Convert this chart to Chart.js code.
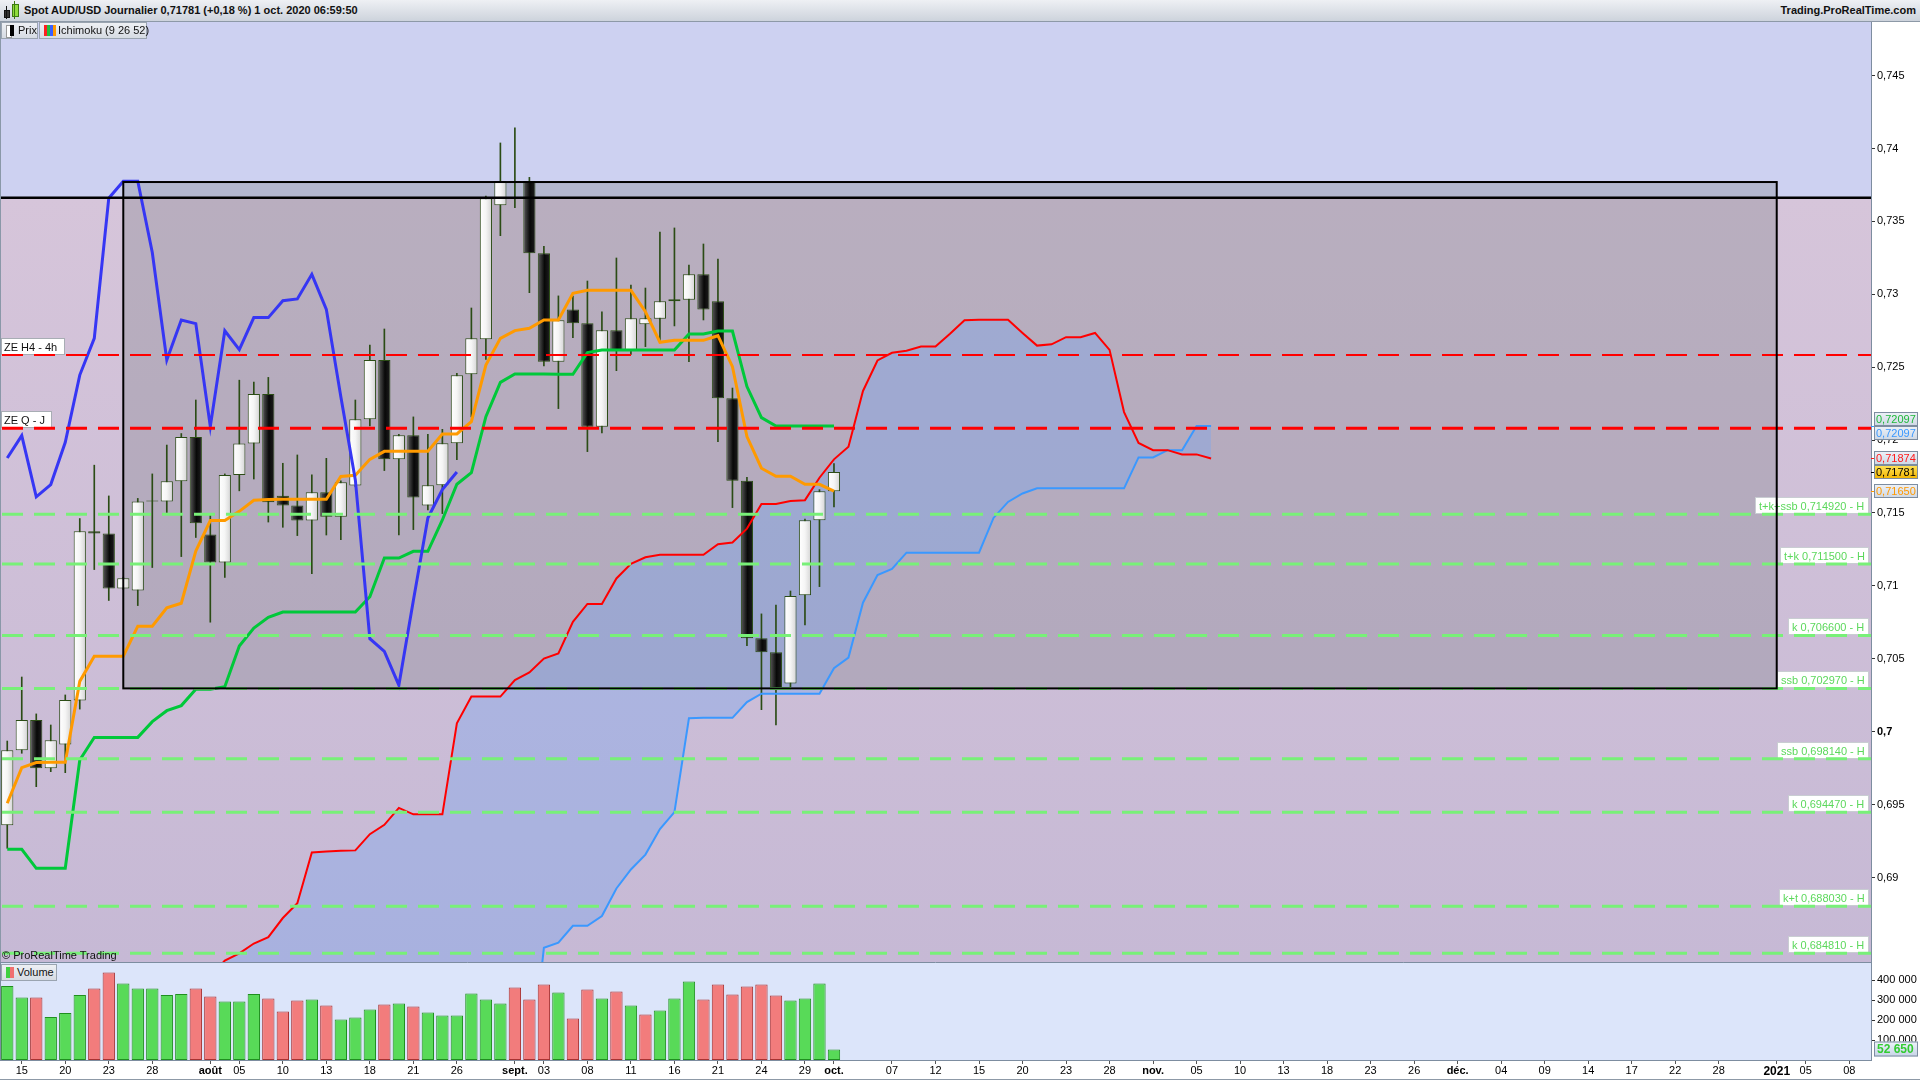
<!DOCTYPE html>
<html lang="fr">
<head>
<meta charset="utf-8">
<title>Spot AUD/USD Journalier</title>
<script src="https://cdn.jsdelivr.net/npm/chart.js@4.4.1/dist/chart.umd.min.js"></script>
<style>
  html, body { margin:0; padding:0; background:#fff; }
  body { width:1920px; height:1080px; position:relative; overflow:hidden; font-family:"Liberation Sans", Arial, sans-serif; }
  #head { position:absolute; left:0; top:0; width:1920px; height:22px; box-sizing:border-box; background:linear-gradient(#eef0f4,#cdd3dc); border-bottom:1px solid #8d99a7; font-size:11px; font-weight:bold; color:#111; z-index:2; }
  #head .title { position:absolute; left:24px; top:4px; }
  #head .site { position:absolute; right:4px; top:4px; }
  #head i { position:absolute; display:block; }
  #price { position:absolute; left:0; top:22px; }
  #vol { position:absolute; left:0; top:962px; }
  .btn { position:absolute; height:17px; box-sizing:border-box; border:1px solid #9aa4b0; background:linear-gradient(#eef0f4,#d6dbe3); font-size:11px; line-height:15px; color:#111; z-index:2; white-space:nowrap; }
  .btn i { position:absolute; top:2px; height:11px; display:block; }
  #copy { position:absolute; left:2px; top:949px; font-size:11px; color:#111; z-index:2; white-space:nowrap; }
  #bottomline { position:absolute; left:0; top:1079px; width:1920px; height:1px; background:#8d99a7; }
</style>
</head>
<body>
<div id="head">
  <i style="left:4px;top:10px;width:4px;height:6px;background:#333;border:1px solid #111"></i>
  <i style="left:6px;top:6px;width:1px;height:13px;background:#111"></i>
  <i style="left:12px;top:4px;width:5px;height:11px;background:#8fdc3c;border:1px solid #3c7a10"></i>
  <i style="left:14px;top:1px;width:1px;height:18px;background:#3c7a10"></i>
  <span class="title">Spot AUD/USD Journalier 0,71781 (+0,18 %) 1 oct. 2020 06:59:50</span>
  <span class="site">Trading.ProRealTime.com</span>
</div>
<canvas id="price" width="1920" height="940"></canvas>
<canvas id="vol" width="1920" height="118"></canvas>
<div class="btn" style="left:1px;top:22px;width:37px;">
  <i style="left:4px;width:4px;background:#fff;border:1px solid #999"></i><i style="left:8px;width:4px;background:#000"></i>
  <span style="position:absolute;left:16px">Prix</span>
</div>
<div class="btn" style="left:39px;top:22px;width:108px;">
  <i style="left:4px;width:3px;background:#ff2020"></i><i style="left:7px;width:3px;background:#20c040"></i><i style="left:10px;width:3px;background:#3a60ff"></i><i style="left:13px;width:3px;background:#ff9900"></i>
  <span style="position:absolute;left:18px">Ichimoku (9 26 52)</span>
</div>
<div id="copy">© ProRealTime Trading</div>
<div class="btn" style="left:1px;top:964px;width:56px;">
  <i style="left:4px;width:4px;background:#40d040"></i><i style="left:8px;width:4px;background:#f07070"></i>
  <span style="position:absolute;left:15px">Volume</span>
</div>
<div id="bottomline"></div>

<script>
const FONT = '"Liberation Sans", Arial, sans-serif'
Chart.defaults.font.family = FONT
Chart.defaults.font.size = 11
Chart.defaults.color = '#000'

// trading days shown on the x axis (history + 26 days of projected cloud)
const dates = [
  '2020-07-14','2020-07-15','2020-07-16','2020-07-17','2020-07-20','2020-07-21','2020-07-22','2020-07-23','2020-07-24','2020-07-27','2020-07-28','2020-07-29','2020-07-30','2020-07-31',
  '2020-08-03','2020-08-04','2020-08-05','2020-08-06','2020-08-07','2020-08-10','2020-08-11','2020-08-12','2020-08-13','2020-08-14','2020-08-17','2020-08-18','2020-08-19','2020-08-20','2020-08-21','2020-08-24','2020-08-25','2020-08-26','2020-08-27','2020-08-28','2020-08-31',
  '2020-09-01','2020-09-02','2020-09-03','2020-09-04','2020-09-07','2020-09-08','2020-09-09','2020-09-10','2020-09-11','2020-09-14','2020-09-15','2020-09-16','2020-09-17','2020-09-18','2020-09-21','2020-09-22','2020-09-23','2020-09-24','2020-09-25','2020-09-28','2020-09-29','2020-09-30',
  '2020-10-01','2020-10-02','2020-10-05','2020-10-06','2020-10-07','2020-10-08','2020-10-09','2020-10-12','2020-10-13','2020-10-14','2020-10-15','2020-10-16','2020-10-19','2020-10-20','2020-10-21','2020-10-22','2020-10-23','2020-10-26','2020-10-27','2020-10-28','2020-10-29','2020-10-30',
  '2020-11-02','2020-11-03','2020-11-04','2020-11-05','2020-11-06','2020-11-09','2020-11-10','2020-11-11','2020-11-12','2020-11-13','2020-11-16','2020-11-17','2020-11-18','2020-11-19','2020-11-20','2020-11-23','2020-11-24','2020-11-25','2020-11-26','2020-11-27','2020-11-30',
  '2020-12-01','2020-12-02','2020-12-03','2020-12-04','2020-12-07','2020-12-08','2020-12-09','2020-12-10','2020-12-11','2020-12-14','2020-12-15','2020-12-16','2020-12-17','2020-12-18','2020-12-21','2020-12-22','2020-12-23','2020-12-24','2020-12-28','2020-12-29','2020-12-30','2020-12-31',
  '2021-01-01','2021-01-04','2021-01-05','2021-01-06','2021-01-07','2021-01-08','2021-01-11'
]

const tickDates = ['2020-07-15','2020-07-20','2020-07-23','2020-07-28','2020-08-03','2020-08-05','2020-08-10','2020-08-13','2020-08-18','2020-08-21','2020-08-26','2020-09-01','2020-09-03','2020-09-08','2020-09-11','2020-09-16','2020-09-21','2020-09-24','2020-09-29','2020-10-01','2020-10-07','2020-10-12','2020-10-15','2020-10-20','2020-10-23','2020-10-28','2020-11-02','2020-11-05','2020-11-10','2020-11-13','2020-11-18','2020-11-23','2020-11-26','2020-12-01','2020-12-04','2020-12-09','2020-12-14','2020-12-17','2020-12-22','2020-12-28','2021-01-01','2021-01-05','2021-01-08']
const tickLabels = ['15','20','23','28','août','05','10','13','18','21','26','sept.','03','08','11','16','21','24','29','oct.','07','12','15','20','23','28','nov.','05','10','13','18','23','26','déc.','04','09','14','17','22','28','2021','05','08']
const boldLabels = ['août','sept.','oct.','nov.','déc.','2021']

// daily candles, 14 Jul -> 1 Oct 2020
const opens = [0.69358,0.69872,0.70080,0.69749,0.69913,0.70214,0.71375,0.71359,0.70982,0.70968,
  0.71579,0.71579,0.71717,0.72021,0.71353,0.71161,0.71760,0.71977,0.72316,0.71619,
  0.71551,0.71448,0.71642,0.71475,0.71688,0.72143,0.72550,0.71868,0.72033,0.71551,
  0.71690,0.71978,0.72451,0.72691,0.73610,0.73777,0.73777,0.73281,0.72538,0.72895,
  0.72801,0.72092,0.72753,0.72618,0.72794,0.72833,0.72952,0.72963,0.73137,0.72952,
  0.72287,0.71722,0.70641,0.70545,0.70330,0.70935,0.71450,0.71649]
const highs = [0.69936,0.70375,0.70122,0.70046,0.70252,0.71462,0.71828,0.71617,0.71060,0.71600,
  0.71768,0.71966,0.72045,0.72275,0.71484,0.71768,0.72411,0.72398,0.72430,0.71841,
  0.71898,0.71761,0.71875,0.71720,0.72275,0.72652,0.72762,0.72040,0.72159,0.72040,
  0.72074,0.72458,0.72906,0.73674,0.74038,0.74141,0.73802,0.73329,0.72989,0.72988,
  0.73091,0.72879,0.73249,0.73064,0.73043,0.73427,0.73455,0.73201,0.73345,0.73242,
  0.72357,0.71745,0.70808,0.70869,0.70965,0.71459,0.71660,0.71839]
const lows = [0.69200,0.69852,0.69623,0.69726,0.69719,0.70155,0.71112,0.70900,0.70975,0.70865,
  0.71126,0.71503,0.71201,0.71332,0.70751,0.71058,0.71652,0.71733,0.71438,0.71402,
  0.71345,0.71084,0.71349,0.71317,0.71680,0.72097,0.71791,0.71349,0.71386,0.71521,
  0.71496,0.71866,0.72159,0.72554,0.73402,0.73594,0.73011,0.72508,0.72216,0.72703,
  0.71921,0.72049,0.72476,0.72588,0.72641,0.72675,0.72783,0.72538,0.72824,0.71990,
  0.71537,0.70590,0.70151,0.70046,0.70309,0.70732,0.70995,0.71541]
const closes = [0.69872,0.70080,0.69749,0.69941,0.70217,0.71375,0.71359,0.70982,0.71052,0.71579,
  0.71582,0.71717,0.72021,0.71429,0.71161,0.71760,0.71977,0.72316,0.71573,0.71551,
  0.71448,0.71642,0.71475,0.71711,0.72143,0.72550,0.71868,0.72033,0.71606,0.71690,
  0.71978,0.72444,0.72698,0.73658,0.73777,0.73770,0.73281,0.72538,0.72822,0.72801,
  0.72092,0.72753,0.72618,0.72835,0.72835,0.72952,0.72966,0.73137,0.72895,0.72287,
  0.71722,0.70641,0.70545,0.70298,0.70931,0.71450,0.71649,0.71781]

const volumes = [370000,313000,313000,215000,235000,325000,358000,438000,383000,358000,
  358000,325000,330000,358000,318000,293000,293000,330000,308000,243000,
  298000,303000,273000,203000,213000,253000,278000,283000,268000,238000,
  223000,223000,333000,303000,283000,363000,303000,378000,338000,208000,
  353000,308000,343000,273000,228000,248000,308000,393000,303000,378000,
  328000,368000,378000,323000,298000,308000,383000,52650]
const volUp = [1,1,0,1,1,1,0,0,1,1, 1,1,1,0,0,1,1,1,0,0, 0,1,0,1,1,1,0,1,0,1,
  1,1,1,1,1,0,0,0,1,0, 0,1,0,1,0,1,1,1,0,0, 0,0,0,0,1,1,1,1]
const volTicks = [100000, 200000, 300000, 400000]

// Ichimoku (9 26 52)
const tenkan = [0.69509,0.69753,0.69788,0.69790,0.69790,0.70345,0.70518,0.70518,0.70518,0.70724,
  0.70724,0.70849,0.70881,0.71239,0.71448,0.71448,0.71511,0.71587,0.71592,0.71594,
  0.71594,0.71594,0.71594,0.71750,0.71759,0.71868,0.71923,0.71923,0.71923,0.71923,
  0.72042,0.72042,0.72127,0.72515,0.72698,0.72751,0.72767,0.72824,0.72824,0.73007,
  0.73027,0.73027,0.73027,0.73027,0.72881,0.72671,0.72684,0.72684,0.72684,0.72716,
  0.72504,0.72024,0.71807,0.71752,0.71752,0.71697,0.71697,0.71650]
const kijun = [0.69193,0.69193,0.69063,0.69063,0.69063,0.69806,0.69961,0.69961,0.69961,0.69961,
  0.70069,0.70144,0.70179,0.70291,0.70291,0.70309,0.70588,0.70711,0.70784,0.70821,
  0.70821,0.70821,0.70821,0.70821,0.70821,0.70926,0.71191,0.71191,0.71237,0.71237,
  0.71452,0.71697,0.71777,0.72161,0.72396,0.72453,0.72453,0.72453,0.72451,0.72451,
  0.72600,0.72618,0.72618,0.72618,0.72618,0.72618,0.72618,0.72728,0.72728,0.72748,
  0.72748,0.72367,0.72154,0.72097,0.72097,0.72097,0.72097,0.72097]
const chikou = [0.71877,0.72031,0.71611,0.71695,0.71985,0.72446,0.72698,0.73659,0.73775,0.73775,
  0.73287,0.72549,0.72823,0.72799,0.72094,0.72750,0.72620,0.72840,0.72840,0.72956,
  0.72968,0.73137,0.72897,0.72298,0.71727,0.70638,0.70551,0.70319,0.70899,0.71466,
  0.71660,0.71781]
// senkou spans start on 2020-08-03 (index 14); early values sit below the visible range
const spanStart = 14
const senkouA = [0.68320,0.68430,0.68480,0.68547,0.68591,0.68722,0.68823,0.69172,0.69178,0.69183,
  0.69186,0.69297,0.69361,0.69477,0.69433,0.69433,0.69433,0.70058,0.70241,0.70241,
  0.70241,0.70354,0.70406,0.70502,0.70537,0.70754,0.70876,0.70876,0.71051,0.71152,
  0.71196,0.71213,0.71213,0.71213,0.71213,0.71286,0.71297,0.71393,0.71562,0.71562,
  0.71582,0.71588,0.71742,0.71868,0.71954,0.72337,0.72546,0.72599,0.72613,0.72642,
  0.72642,0.72729,0.72822,0.72825,0.72825,0.72825,0.72735,0.72648,0.72657,0.72706,
  0.72706,0.72735,0.72619,0.72192,0.71980,0.71931,0.71931,0.71902,0.71902,0.71874]
const senkouB = [0.676,0.676,0.676,0.676,0.676,0.676,0.676,0.676,0.676,0.676,
  0.676,0.676,0.676,0.676,0.676,0.676,0.676,0.676,0.676,0.676,
  0.676,0.676,0.676,0.68518,0.68553,0.68669,0.68669,0.68736,0.68925,0.69055,
  0.69157,0.69332,0.69448,0.70092,0.70095,0.70095,0.70095,0.70203,0.70261,0.70261,
  0.70261,0.70261,0.70261,0.70435,0.70508,0.70885,0.71074,0.71117,0.71228,0.71228,
  0.71228,0.71228,0.71228,0.71228,0.71466,0.71576,0.71634,0.71669,0.71669,0.71669,
  0.71669,0.71669,0.71669,0.71669,0.71881,0.71881,0.71931,0.71931,0.72097,0.72097]

// drawn levels
const levelValues = [0.714920,0.711500,0.706600,0.702970,0.698140,0.694470,0.688030,0.684810]
const levelLabels = ['t+k+ssb 0,714920 - H','t+k 0,711500 - H','k 0,706600 - H','ssb 0,702970 - H','ssb 0,698140 - H','k 0,694470 - H','k+t 0,688030 - H','k 0,684810 - H']
const zoneValues = [0.72584, 0.72081]
const zoneLabels = ['ZE H4 - 4h', 'ZE Q - J']
const blackLine = 0.73662
const boxDates = ['2020-07-24', '2021-01-01']
const boxPrices = [0.73770, 0.70297]
const priceTicks = [0.69, 0.695, 0.7, 0.705, 0.71, 0.715, 0.72, 0.725, 0.73, 0.735, 0.74, 0.745]

const yMin = 0.684204, yMax = 0.748676
const volMax = 490000

const N = dates.length
const pad = (start, arr) => {
  const out = new Array(N).fill(null)
  arr.forEach((v, k) => { out[start + k] = v })
  return out
}
const tickText = dates.map(d => {
  const k = tickDates.indexOf(d)
  return k < 0 ? '' : tickLabels[k]
})
const fmt5 = v => v.toFixed(5).replace('.', ',')
const fmtAxis = v => String(Math.round(v * 1000) / 1000).replace('.', ',')
const noPad = s => { s.paddingTop = 0; s.paddingBottom = 0; s.paddingLeft = 0; s.paddingRight = 0 }

const cloud = 'rgba(120,165,240,0.38)'
const wickColor = '#2b4c15'

const priceDecor = {
  id: 'priceDecor',
  beforeDraw(chart) {
    const { ctx, chartArea: a, scales: { x, y } } = chart
    ctx.save()
    const yl = y.getPixelForValue(blackLine)
    ctx.fillStyle = '#cdd1f1'
    ctx.fillRect(a.left, a.top, a.right - a.left, yl - a.top)
    const g = ctx.createLinearGradient(0, yl, 0, a.bottom)
    g.addColorStop(0, '#d6c5da')
    g.addColorStop(1, '#c6b9d5')
    ctx.fillStyle = g
    ctx.fillRect(a.left, yl, a.right - a.left, a.bottom - yl)
    const bx1 = x.getPixelForValue(dates.indexOf(boxDates[0]))
    const bx2 = x.getPixelForValue(dates.indexOf(boxDates[1]))
    const by1 = y.getPixelForValue(boxPrices[0])
    const by2 = y.getPixelForValue(boxPrices[1])
    ctx.fillStyle = 'rgba(118,122,128,0.3)'
    ctx.fillRect(bx1, by1, bx2 - bx1, by2 - by1)
    ctx.restore()
  },
  afterDatasetsDraw(chart) {
    const { ctx, chartArea: a, scales: { x, y } } = chart
    ctx.save()
    ctx.font = '11px ' + FONT
    ctx.textBaseline = 'alphabetic'
    // label boxes
    levelValues.forEach((v, k) => {
      const py = Math.round(y.getPixelForValue(v))
      const w = Math.ceil(ctx.measureText(levelLabels[k]).width) + 8
      const x1 = a.right - 2 - w
      ctx.fillStyle = '#ffffff'
      ctx.fillRect(x1, py - 17, w, 17)
      ctx.strokeStyle = '#c9cdd2'
      ctx.lineWidth = 1
      ctx.strokeRect(x1 + 0.5, py - 16.5, w - 1, 16)
      ctx.fillStyle = '#5cd85c'
      ctx.fillText(levelLabels[k], x1 + 4, py - 4)
    })
    zoneValues.forEach((v, k) => {
      const py = Math.round(y.getPixelForValue(v))
      const w = Math.ceil(ctx.measureText(zoneLabels[k]).width) + 10
      ctx.fillStyle = '#ffffff'
      ctx.fillRect(1, py - 17, w, 17)
      ctx.strokeStyle = '#a8adb4'
      ctx.lineWidth = 1
      ctx.strokeRect(1.5, py - 16.5, w - 1, 16)
      ctx.fillStyle = '#111'
      ctx.fillText(zoneLabels[k], 4, py - 4)
    })
    // dashed levels
    ctx.setLineDash([21, 11])
    ctx.lineWidth = 3
    ctx.strokeStyle = '#78f078'
    levelValues.forEach(v => {
      const py = y.getPixelForValue(v)
      ctx.beginPath(); ctx.moveTo(a.left + 2, py); ctx.lineTo(a.right, py); ctx.stroke()
    })
    ctx.strokeStyle = '#ff0000'
    zoneValues.forEach((v, k) => {
      const py = y.getPixelForValue(v)
      ctx.lineWidth = k === 0 ? 2 : 3
      ctx.beginPath(); ctx.moveTo(a.left + 2, py); ctx.lineTo(a.right, py); ctx.stroke()
    })
    ctx.setLineDash([])
    // black line and box
    ctx.strokeStyle = '#000'
    ctx.lineWidth = 2.5
    const yl = y.getPixelForValue(blackLine)
    ctx.beginPath(); ctx.moveTo(a.left, yl); ctx.lineTo(a.right, yl); ctx.stroke()
    const bx1 = x.getPixelForValue(dates.indexOf(boxDates[0]))
    const bx2 = x.getPixelForValue(dates.indexOf(boxDates[1]))
    const by1 = y.getPixelForValue(boxPrices[0])
    const by2 = y.getPixelForValue(boxPrices[1])
    ctx.lineWidth = 2
    ctx.strokeRect(bx1, by1, bx2 - bx1, by2 - by1)
    // left border
    ctx.strokeStyle = '#8a98a8'
    ctx.lineWidth = 1
    ctx.beginPath(); ctx.moveTo(0.5, a.top); ctx.lineTo(0.5, a.bottom); ctx.stroke()
    ctx.restore()
  },
  afterDraw(chart) {
    const { ctx, chartArea: a, scales: { y } } = chart
    const last = arr => arr[arr.length - 1]
    const tags = [
      { v: last(kijun), dy: -7, color: '#1fb83a' },
      { v: last(senkouB), dy: 7, color: '#3a98ff' },
      { v: last(senkouA), dy: 0, color: '#ff1a1a' },
      { v: last(tenkan), dy: 0, color: '#ff9900' },
      { v: last(closes), dy: 0, color: '#000', price: true }
    ]
    ctx.save()
    ctx.font = '11px ' + FONT
    ctx.textBaseline = 'middle'
    tags.forEach(t => {
      const py = y.getPixelForValue(t.v)
      const cy = Math.round(py + t.dy)
      const x1 = a.right + 3, w = 44, h = 14
      ctx.strokeStyle = t.color
      ctx.lineWidth = 1
      ctx.beginPath(); ctx.moveTo(a.right, Math.round(py) + 0.5); ctx.lineTo(a.right + 3, Math.round(py) + 0.5); ctx.stroke()
      const g = ctx.createLinearGradient(0, cy - h / 2, 0, cy + h / 2)
      if (t.price) { g.addColorStop(0, '#ffe45a'); g.addColorStop(1, '#f2b400') }
      else { g.addColorStop(0, '#eef2f8'); g.addColorStop(1, '#cdd7e4') }
      ctx.fillStyle = g
      ctx.fillRect(x1, cy - h / 2, w, h)
      ctx.strokeStyle = '#7d8da0'
      ctx.strokeRect(x1 + 0.5, cy - h / 2 + 0.5, w - 1, h - 1)
      ctx.fillStyle = t.color
      ctx.fillText(fmt5(t.v), x1 + 2, cy + 1)
    })
    ctx.restore()
  }
}

const bodyFill = c => {
  const i = c.dataIndex
  if (c.type !== 'data' || i === undefined) return '#f5f5f5'
  const up = closes[i] >= opens[i]
  const xs = c.chart.scales && c.chart.scales.x
  const px = xs ? xs.getPixelForValue(i) : NaN
  if (!Number.isFinite(px)) return up ? '#f5f5f5' : '#151515'
  const g = c.chart.ctx.createLinearGradient(px - 6, 0, px + 6, 0)
  if (up) {
    g.addColorStop(0, '#ffffff'); g.addColorStop(0.5, '#f5f5f5'); g.addColorStop(1, '#d4d4d4')
  } else {
    g.addColorStop(0, '#5a5a5a'); g.addColorStop(0.55, '#080808'); g.addColorStop(1, '#1e1e1e')
  }
  return g
}

const lineSet = (label, data, color, width, order) => ({
  type: 'line', label, data, borderColor: color, borderWidth: width,
  pointRadius: 0, tension: 0, fill: false, spanGaps: false, order
})

new Chart(document.getElementById('price'), {
  data: {
    labels: dates,
    datasets: [
      lineSet('Chikou', pad(0, chikou), '#3636f4', 3, 0),
      lineSet('Tenkan', pad(0, tenkan), '#ff9a00', 3, 1),
      lineSet('Kijun', pad(0, kijun), '#00c83a', 3, 2),
      Object.assign(lineSet('Senkou A', pad(spanStart, senkouA), '#ff0000', 2, 3), { fill: { target: 4, above: cloud, below: cloud } }),
      lineSet('Senkou B', pad(spanStart, senkouB), '#3a98ff', 2, 4),
      {
        type: 'bar', label: 'Prix', data: opens.map((o, k) => [o, closes[k]]),
        backgroundColor: bodyFill, borderColor: wickColor, borderWidth: 1, borderSkipped: false,
        barPercentage: 0.84, categoryPercentage: 1, grouped: false, minBarLength: 1, order: 5
      },
      {
        type: 'bar', label: 'Mèches', data: lows.map((l, k) => [l, highs[k]]),
        backgroundColor: wickColor, borderWidth: 0, barThickness: 1, grouped: false, order: 6
      }
    ]
  },
  options: {
    responsive: false, animation: false, devicePixelRatio: 1,
    layout: { padding: 0, autoPadding: false },
    plugins: { legend: { display: false }, tooltip: { enabled: false }, filler: { drawTime: 'beforeDatasetsDraw' } },
    scales: {
      x: { type: 'category', offset: true, display: false, afterFit: noPad },
      y: {
        position: 'right', min: yMin, max: yMax,
        afterFit(s) { s.width = 49; noPad(s) },
        afterBuildTicks(s) { s.ticks = priceTicks.map(v => ({ value: v })) },
        border: { color: '#7d8da0' },
        grid: { drawOnChartArea: false, tickLength: 4, tickColor: '#333' },
        ticks: {
          padding: 2, color: '#000',
          font: c => ({ family: FONT, size: 11, weight: c.tick && Math.abs(c.tick.value - 0.7) < 1e-7 ? 'bold' : 'normal' }),
          callback: v => fmtAxis(v)
        }
      }
    }
  },
  plugins: [priceDecor]
})

const volDecor = {
  id: 'volDecor',
  beforeDraw(chart) {
    const { ctx, chartArea: a } = chart
    ctx.save()
    ctx.fillStyle = '#dce5fa'
    ctx.fillRect(a.left, a.top, a.right - a.left, a.bottom - a.top)
    ctx.strokeStyle = '#7d8da0'
    ctx.lineWidth = 1
    ctx.beginPath(); ctx.moveTo(0, 0.5); ctx.lineTo(a.right, 0.5); ctx.stroke()
    ctx.beginPath(); ctx.moveTo(0.5, 0); ctx.lineTo(0.5, a.bottom); ctx.stroke()
    ctx.restore()
  },
  afterDraw(chart) {
    const { ctx, chartArea: a, scales: { y } } = chart
    const v = volumes[volumes.length - 1]
    const cy = Math.round(y.getPixelForValue(v))
    const x1 = a.right + 3, w = 44, h = 15
    ctx.save()
    const g = ctx.createLinearGradient(0, cy - h / 2, 0, cy + h / 2)
    g.addColorStop(0, '#eef3fb'); g.addColorStop(1, '#c6d3e6')
    ctx.fillStyle = g
    ctx.fillRect(x1, cy - h / 2, w, h)
    ctx.strokeStyle = '#7d8da0'
    ctx.lineWidth = 1
    ctx.strokeRect(x1 + 0.5, cy - h / 2 + 0.5, w - 1, h - 1)
    ctx.fillStyle = '#33cc33'
    ctx.font = 'bold 12px ' + FONT
    ctx.textBaseline = 'middle'
    const txt = String(v).replace(/\B(?=(\d{3})+(?!\d))/g, ' ')
    ctx.fillText(txt, x1 + 3, cy + 1)
    ctx.restore()
  }
}

new Chart(document.getElementById('vol'), {
  type: 'bar',
  data: {
    labels: dates,
    datasets: [{
      label: 'Volume', data: pad(0, volumes),
      backgroundColor: volUp.map(u => u ? '#58da58' : '#f27c7c'),
      borderColor: volUp.map(u => u ? '#1f8f1f' : '#a83232'),
      borderWidth: 1, borderSkipped: false, barPercentage: 0.85, categoryPercentage: 1
    }]
  },
  options: {
    responsive: false, animation: false, devicePixelRatio: 1,
    layout: { padding: 0, autoPadding: false },
    plugins: { legend: { display: false }, tooltip: { enabled: false } },
    scales: {
      x: {
        offset: true,
        afterFit(s) { s.height = 20; noPad(s) },
        border: { color: '#7d8da0' },
        grid: { drawOnChartArea: false, offset: false, tickLength: 4, tickColor: c => tickText[c.index] ? '#555' : 'rgba(0,0,0,0)' },
        ticks: {
          autoSkip: false, maxRotation: 0, minRotation: 0, padding: 0, color: '#000',
          font: c => {
            const t = tickText[c.index]
            return { family: FONT, size: t === '2021' ? 12 : 11, weight: boldLabels.includes(t) ? 'bold' : 'normal' }
          },
          callback: (v, i) => tickText[i]
        }
      },
      y: {
        position: 'right', min: 0, max: volMax,
        afterFit(s) { s.width = 49; noPad(s) },
        afterBuildTicks(s) { s.ticks = volTicks.map(v => ({ value: v })) },
        border: { color: '#7d8da0' },
        grid: { drawOnChartArea: false, tickLength: 4, tickColor: '#333' },
        ticks: { padding: 2, color: '#000', callback: v => (v / 1000) + ' 000' }
      }
    }
  },
  plugins: [volDecor]
})
</script>
</body>
</html>
